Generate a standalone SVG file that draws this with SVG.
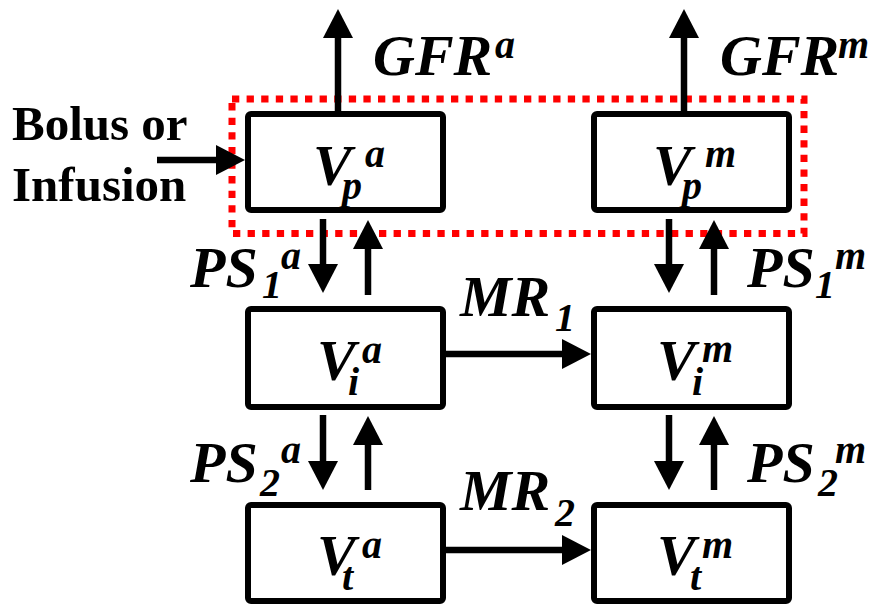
<svg xmlns="http://www.w3.org/2000/svg" width="873" height="605" viewBox="0 0 873 605">
<style>
.box{fill:#fff;stroke:#000;stroke-width:6;}
.ln{stroke:#000;stroke-width:6.5;fill:none;marker-end:url(#ah);}
.m{font-family:"Liberation Serif","Times New Roman",serif;font-weight:bold;font-style:italic;fill:#000;}
.big{font-size:58px;}
.sm{font-size:40px;}
.t{font-family:"Liberation Serif","Times New Roman",serif;font-weight:bold;font-size:49px;fill:#000;}
</style>
<defs>
<marker id="ah" markerUnits="userSpaceOnUse" markerWidth="30" markerHeight="30" refX="0" refY="15" orient="auto" viewBox="0 0 29 30">
<path d="M0,0 L29,15 L0,30 Z" fill="#000"/>
</marker>
</defs>
<rect x="232" y="99" width="572" height="134.5" fill="none" stroke="#f00" stroke-width="7" stroke-dasharray="7.3 7.3"/>
<g id="connectors">
<line class="ln" x1="338" y1="111" x2="338" y2="38"/>
<line class="ln" x1="684" y1="111" x2="684" y2="38"/>
<line class="ln" x1="157" y1="160" x2="216" y2="160"/>
<line class="ln" x1="446" y1="354" x2="562" y2="354"/>
<line class="ln" x1="446" y1="550" x2="562" y2="550"/>
<line class="ln" x1="323" y1="219" x2="323" y2="264"/>
<line class="ln" x1="368" y1="295" x2="368" y2="249"/>
<line class="ln" x1="323" y1="415" x2="323" y2="461"/>
<line class="ln" x1="368" y1="490" x2="368" y2="445"/>
<line class="ln" x1="669" y1="219" x2="669" y2="264"/>
<line class="ln" x1="714" y1="295" x2="714" y2="249"/>
<line class="ln" x1="669" y1="415" x2="669" y2="461"/>
<line class="ln" x1="714" y1="490" x2="714" y2="445"/>
</g>
<g id="labels">
<text class="t" x="12" y="140">Bolus or</text>
<text class="t" x="12" y="201">Infusion</text>
<text class="m big" x="373" y="75">GFR</text><text class="m sm" x="495" y="58">a</text>
<text class="m big" x="720" y="75">GFR</text><text class="m sm" x="838" y="58">m</text>
<text class="m big" x="190" y="287">PS</text><text class="m sm" x="262" y="298">1</text><text class="m sm" x="281" y="269">a</text>
<text class="m big" x="190" y="482">PS</text><text class="m sm" x="260" y="496">2</text><text class="m sm" x="281" y="463">a</text>
<text class="m big" x="747" y="287">PS</text><text class="m sm" x="815" y="298">1</text><text class="m sm" x="835" y="269">m</text>
<text class="m big" x="747" y="482">PS</text><text class="m sm" x="818" y="496">2</text><text class="m sm" x="835" y="463">m</text>
<text class="m big" x="460" y="316">MR</text><text class="m sm" x="555" y="331">1</text>
<text class="m big" x="460" y="510">MR</text><text class="m sm" x="555" y="526">2</text>
</g>
<g id="Vp_a"><rect class="box" x="248" y="114" width="195" height="96" rx="3"/>
<text class="m big" x="313" y="185">V</text><text class="m sm" x="342" y="199">p</text><text class="m sm" x="365" y="167">a</text></g>
<g id="Vp_m"><rect class="box" x="594" y="114" width="195" height="96" rx="3"/>
<text class="m big" x="653" y="185">V</text><text class="m sm" x="682" y="199">p</text><text class="m sm" x="705" y="167">m</text></g>
<g id="Vi_a"><rect class="box" x="248" y="309" width="195" height="98" rx="3"/>
<text class="m big" x="317" y="380">V</text><text class="m sm" x="348" y="395">i</text><text class="m sm" x="362" y="363">a</text></g>
<g id="Vi_m"><rect class="box" x="594" y="309" width="195" height="98" rx="3"/>
<text class="m big" x="657" y="380">V</text><text class="m sm" x="692" y="395">i</text><text class="m sm" x="702" y="362">m</text></g>
<g id="Vt_a"><rect class="box" x="248" y="505" width="195" height="96" rx="3"/>
<text class="m big" x="317" y="575">V</text><text class="m sm" x="342" y="590">t</text><text class="m sm" x="362" y="558">a</text></g>
<g id="Vt_m"><rect class="box" x="594" y="505" width="195" height="96" rx="3"/>
<text class="m big" x="657" y="575">V</text><text class="m sm" x="690" y="590">t</text><text class="m sm" x="702" y="558">m</text></g>
</svg>
